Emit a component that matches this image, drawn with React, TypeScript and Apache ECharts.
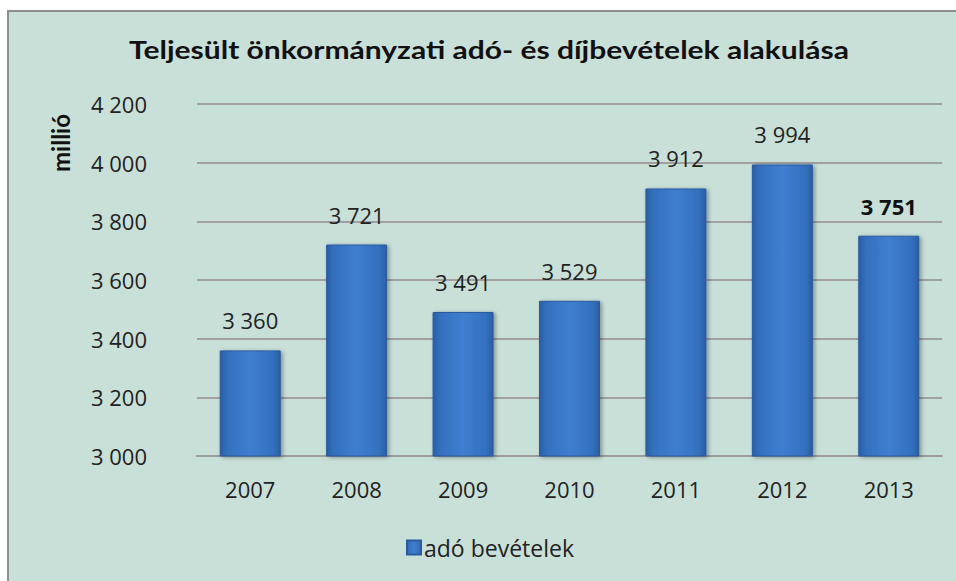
import React, { useEffect, useRef } from "react";
import * as echarts from "echarts";

const titleText = "Teljesült önkormányzati adó- és díjbevételek alakulása";
const yAxisName = "millió";
const seriesName = "adó bevételek";
const years = ["2007", "2008", "2009", "2010", "2011", "2012", "2013"];
const values = [3360, 3721, 3491, 3529, 3912, 3994, 3751];
const boldIndex = 6;
const yMin = 3000;
const yMax = 4200;
const yStep = 200;

const fmt = (v: number) => String(v).replace(/\B(?=(\d{3})+(?!\d))/g, " ");
const TFONT = "Lato, 'Open Sans', sans-serif";
const FONT = "'Open Sans', Lato, sans-serif";

export default function App() {
  const ref = useRef<HTMLDivElement>(null);
  useEffect(() => {
    if (!ref.current) return;
    const chart = echarts.init(ref.current, undefined, { renderer: "svg" });
    const barColor = new echarts.graphic.LinearGradient(0, 0, 1, 0, [
      { offset: 0, color: "#2a5ea6" },
      { offset: 0.12, color: "#3470be" },
      { offset: 0.5, color: "#3f7ed0" },
      { offset: 0.88, color: "#3470be" },
      { offset: 1, color: "#2a5ea6" },
    ]);
    chart.setOption({
      animation: false,
      backgroundColor: "transparent",
      textStyle: { fontFamily: FONT },
      graphic: [
        {
          type: "text",
          x: 480,
          y: 37,
          scaleX: 1.2,
          style: {
            text: titleText,
            fontFamily: TFONT,
            fontSize: 25,
            fontWeight: "bold",
            fill: "#111",
            textAlign: "center",
            textVerticalAlign: "middle",
          },
        },
        {
          type: "text",
          x: 51,
          y: 131,
          rotation: Math.PI / 2,
          style: {
            text: yAxisName,
            fontFamily: TFONT,
            fontSize: 24,
            fontWeight: "bold",
            fill: "#111",
            textAlign: "center",
            textVerticalAlign: "middle",
          },
        },
      ],
      legend: {
        show: true,
        bottom: 17,
        left: 392,
        itemWidth: 14,
        itemHeight: 14,
        itemGap: 6,
        icon: "rect",
        textStyle: { fontFamily: FONT, fontSize: 23, color: "#222", padding: [0, 0, 0, -2] },
        data: [seriesName],
      },
      grid: { left: 188, right: 14, top: 92, bottom: 125 },
      xAxis: {
        type: "category",
        data: years,
        axisTick: { show: false },
        axisLine: { lineStyle: { color: "#9c9c9c", width: 2 } },
        axisLabel: { fontFamily: FONT, fontSize: 22, color: "#222", margin: 22 },
      },
      yAxis: {
        type: "value",
        min: yMin,
        max: yMax,
        interval: yStep,
        axisLine: { show: false },
        axisTick: { show: false },
        splitLine: { lineStyle: { color: "#a0a0a0", width: 2 } },
        axisLabel: {
          fontFamily: FONT,
          fontSize: 22,
          color: "#222",
          margin: 50,
          formatter: (v: number) => fmt(v),
        },
      },
      series: [
        {
          name: seriesName,
          type: "bar",
          barWidth: 61,
          data: values.map((v, i) =>
            i === boldIndex
              ? { value: v, label: { fontWeight: "bold", color: "#111" } }
              : v
          ),
          itemStyle: {
            color: barColor,
            borderColor: "#2a5a9c",
            borderWidth: 1,
            shadowColor: "rgba(0,0,0,0.35)",
            shadowBlur: 4,
            shadowOffsetX: 2,
            shadowOffsetY: 1,
          },
          label: {
            show: true,
            position: "top",
            distance: 19,
            fontFamily: FONT,
            fontSize: 22,
            color: "#222",
            formatter: (p: any) => fmt(p.value),
          },
        },
      ],
    });
    return () => chart.dispose();
  }, []);
  return (
    <div
      style={{
        position: "absolute",
        left: 7,
        top: 10,
        width: 949,
        height: 571,
        boxSizing: "border-box",
        borderLeft: "2px solid #8e8e8e",
        borderTop: "2px solid #8e8e8e",
        background: "#c9e0d8",
        overflow: "hidden",
      }}
    >
      <div ref={ref} style={{ width: 947, height: 569 }} />
    </div>
  );
}
